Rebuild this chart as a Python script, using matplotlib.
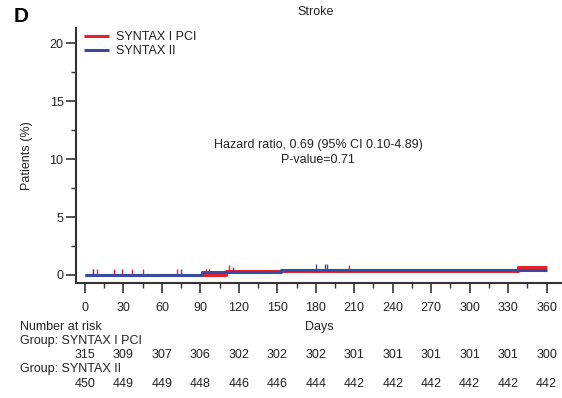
import matplotlib
matplotlib.use("Agg")
import matplotlib.pyplot as plt
from matplotlib.ticker import MultipleLocator
import matplotlib.transforms as mtransforms

plt.rcParams['font.family'] = ['Liberation Sans', 'DejaVu Sans']

# Data
groups = ["SYNTAX I PCI", "SYNTAX II"]
colors = ["#e4222e", "#3a4aa0"]
red_times = [0, 110, 338, 360]
red_vals = [0, 0.33, 0.66, 0.66]
blue_times = [0, 91, 153, 360]
blue_vals = [0, 0.22, 0.45, 0.45]
red_cens = [6.5, 9.6, 22.8, 29, 36.9, 45, 71.7, 94.3, 97, 112, 206]
blue_cens = [6.2, 74.8, 115.6, 180, 187, 189]
risk_days = [0, 30, 60, 90, 120, 150, 180, 210, 240, 270, 300, 330, 360]
risk_pci = [315, 309, 307, 306, 302, 302, 302, 301, 301, 301, 301, 301, 300]
risk_ii = [450, 449, 449, 448, 446, 446, 444, 442, 442, 442, 442, 442, 442]
hr_text = "Hazard ratio, 0.69 (95% CI 0.10-4.89)"
p_text = "P-value=0.71"

W, H = 562, 398
fig = plt.figure(figsize=(W/100, H/100), dpi=100)
ax = fig.add_axes([76/W, 1-283/H, 1-76/W, (283-28)/H])

tc = '#222222'

def step_val(times, vals, t):
    v = vals[0]
    for tt, vv in zip(times, vals):
        if t >= tt:
            v = vv
    return v

for times, vals, cens, c, lab in [(red_times, red_vals, red_cens, colors[0], groups[0]),
                                   (blue_times, blue_vals, blue_cens, colors[1], groups[1])]:
    ax.step(times, vals, where='post', color=c, lw=2.2, label=lab, solid_capstyle='butt')
    cy = [step_val(times, vals, t) + 0.25 for t in cens]
    ax.plot(cens, cy, linestyle='none', marker='|', color=c, markersize=5, markeredgewidth=1.0)

ax.set_xlim(-7, 372)
ax.set_ylim(-0.69, 21.3)
ax.xaxis.set_major_locator(MultipleLocator(30))
ax.xaxis.set_minor_locator(MultipleLocator(15))
ax.yaxis.set_major_locator(MultipleLocator(5))
ax.yaxis.set_minor_locator(MultipleLocator(2.5))
ax.set_xticks(risk_days)
ax.spines['top'].set_visible(False)
ax.spines['right'].set_visible(False)
for s in ['left', 'bottom']:
    ax.spines[s].set_linewidth(1.5)
    ax.spines[s].set_color('#333333')
ax.tick_params(which='major', length=7, width=1.2, color='#333333', labelsize=9, labelcolor=tc, pad=2)
ax.tick_params(axis='x', which='major', pad=7)
ax.tick_params(which='minor', length=3.5, width=1.0, color='#333333')
ax.set_ylabel("Patients (%)", fontsize=9, color=tc, labelpad=12)
ax.set_xlabel("Days", fontsize=9, color=tc, labelpad=5)
ax.set_title("Stroke", fontsize=9, color=tc, pad=9.5, x=(316-76)/(W-76))

ax.text(182, 11.25, hr_text, ha='center', va='center', fontsize=9, color=tc)
ax.text(182, 9.95, p_text, ha='center', va='center', fontsize=9, color=tc)

leg = ax.legend(loc='upper left', bbox_to_anchor=(84/W, 1-31/H), bbox_transform=fig.transFigure,
                frameon=False, fontsize=9, handlelength=2.0, handletextpad=0.6,
                labelspacing=0.15, borderaxespad=0, borderpad=0)
for t in leg.get_texts():
    t.set_color(tc)

fig.text(14/W, 1-16/H, "D", fontsize=15, fontweight='bold', ha='left', va='center', color='black')

trans = mtransforms.blended_transform_factory(ax.transData, fig.transFigure)
fig.text(20/W, 1-327/H, "Number at risk", fontsize=9, color=tc, va='center')
fig.text(20/W, 1-341/H, "Group: " + groups[0], fontsize=9, color=tc, va='center')
fig.text(20/W, 1-369/H, "Group: " + groups[1], fontsize=9, color=tc, va='center')
for d, a, b in zip(risk_days, risk_pci, risk_ii):
    ax.text(d, 1-355/H, str(a), transform=trans, ha='center', va='center', fontsize=9, color=tc)
    ax.text(d, 1-384/H, str(b), transform=trans, ha='center', va='center', fontsize=9, color=tc)

fig.savefig("out.png", dpi=100)
